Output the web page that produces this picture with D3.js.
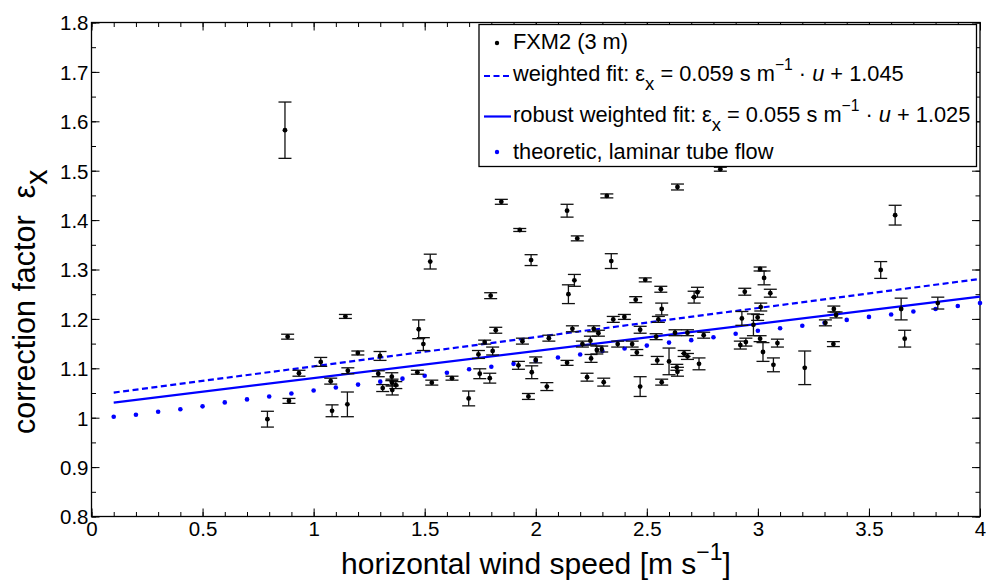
<!DOCTYPE html>
<html>
<head>
<meta charset="utf-8">
<script src="https://cdn.jsdelivr.net/npm/d3@7"></script>
<style>
  html, body { margin: 0; padding: 0; background: #fff; }
  svg { display: block; font-family: "Liberation Sans", Arial, Helvetica, sans-serif; }
  .pre { white-space: pre; }
</style>
</head>
<body>
<svg id="chart" width="986" height="583"></svg>
<script>
// Horizontal wind speed u [m s^-1] of each FXM2 (3 m) estimate
const windSpeed = [0.871,0.792,0.883,0.889,0.934,1.032,1.077,1.083,1.143,1.152,1.154,1.199,1.291,1.299,1.311,1.352,1.353,1.370,1.354,1.473,1.494,1.467,1.525,1.532,1.623,1.698,1.742,1.748,1.770,1.793,1.797,1.806,1.820,1.845,1.922,1.928,1.940,1.967,1.979,1.982,2.000,2.050,2.059,2.141,2.147,2.141,2.165,2.174,2.187,2.210,2.231,2.246,2.249,2.261,2.275,2.282,2.297,2.306,2.320,2.340,2.349,2.369,2.399,2.434,2.450,2.455,2.470,2.470,2.493,2.542,2.547,2.552,2.563,2.567,2.567,2.600,2.627,2.635,2.638,2.638,2.668,2.683,2.683,2.713,2.728,2.735,2.756,2.831,2.921,2.928,2.941,2.946,2.980,2.999,3.010,3.013,3.010,3.028,3.023,3.056,3.070,3.088,3.211,3.304,3.342,3.352,3.340,3.553,3.618,3.645,3.661,3.810];
// Correction factor epsilon_x
const epsilon = [1.582,0.997,1.164,1.034,1.090,1.113,1.074,1.014,1.205,1.027,1.095,1.131,1.089,1.125,1.060,1.083,1.071,1.066,1.056,1.179,1.149,1.092,1.316,1.071,1.080,1.039,1.128,1.089,1.153,1.080,1.247,1.135,1.177,1.437,1.106,1.380,1.155,1.043,1.319,1.092,1.117,1.063,1.161,1.419,1.250,1.111,1.180,1.278,1.363,1.149,1.082,1.156,1.120,1.180,1.137,1.171,1.139,1.072,1.449,1.317,1.199,1.149,1.204,1.149,1.239,1.132,1.178,1.063,1.279,1.164,1.116,1.199,1.260,1.220,1.072,1.114,1.172,1.102,1.093,1.467,1.130,1.124,1.172,1.244,1.254,1.109,1.167,1.503,1.147,1.201,1.255,1.153,1.188,1.203,1.301,1.224,1.160,1.283,1.133,1.252,1.107,1.151,1.101,1.192,1.220,1.208,1.149,1.299,1.410,1.220,1.160,1.232];
// Uncertainty (half length of the error bar)
const epsilonErr = [0.057,0.016,0.005,0.005,0.006,0.009,0.006,0.012,0.004,0.025,0.006,0.004,0.006,0.009,0.007,0.008,0.007,0.007,0.010,0.019,0.013,0.004,0.015,0.005,0.004,0.015,0.008,0.010,0.004,0.010,0.006,0.008,0.006,0.005,0.008,0.003,0.006,0.006,0.011,0.013,0.006,0.008,0.006,0.013,0.019,0.005,0.006,0.012,0.005,0.006,0.008,0.009,0.008,0.006,0.008,0.006,0.006,0.008,0.004,0.015,0.006,0.006,0.005,0.006,0.006,0.006,0.007,0.020,0.004,0.006,0.008,0.006,0.006,0.012,0.006,0.027,0.006,0.006,0.009,0.006,0.006,0.006,0.006,0.012,0.010,0.012,0.006,0.004,0.008,0.014,0.007,0.008,0.022,0.006,0.004,0.008,0.006,0.014,0.019,0.008,0.014,0.008,0.034,0.006,0.006,0.006,0.005,0.017,0.020,0.022,0.017,0.012];

// Theoretical correction for laminar tube flow
const theoryU = [0.1,0.2,0.3,0.4,0.5,0.6,0.7,0.8,0.9,1.0,1.1,1.2,1.3,1.4,1.5,1.6,1.7,1.8,1.9,2.0,2.1,2.2,2.3,2.4,2.5,2.6,2.7,2.8,2.9,3.0,3.1,3.2,3.3,3.4,3.5,3.6,3.7,3.8,3.9,4.0];
const theoryEps = [1.002,1.006,1.012,1.017,1.023,1.031,1.037,1.043,1.049,1.055,1.061,1.067,1.073,1.079,1.085,1.091,1.098,1.103,1.109,1.115,1.122,1.128,1.135,1.140,1.146,1.152,1.157,1.163,1.170,1.176,1.181,1.186,1.192,1.198,1.204,1.209,1.215,1.220,1.226,1.232];

// Linear fits: epsilon_x = slope * u + intercept
const weightedFit = { slope: 0.059, intercept: 1.045 };
const robustFit = { slope: 0.055, intercept: 1.025 };
const fitRange = [0.1, 4.0];

const xTicks = [0, 0.5, 1, 1.5, 2, 2.5, 3, 3.5, 4];
const xTickLabels = ["0", "0.5", "1", "1.5", "2", "2.5", "3", "3.5", "4"];
const yTicks = [0.8, 0.9, 1, 1.1, 1.2, 1.3, 1.4, 1.5, 1.6, 1.7, 1.8];
const yTickLabels = ["0.8", "0.9", "1", "1.1", "1.2", "1.3", "1.4", "1.5", "1.6", "1.7", "1.8"];

const svg = d3.select("#chart");
const plot = { left: 91.5, top: 22.5, right: 980, bottom: 516.5 };

const x = d3.scaleLinear().domain([0, 4]).range([plot.left, plot.right]);
const y = d3.scaleLinear().domain([0.8, 1.8]).range([plot.bottom, plot.top]);

const blue = "#0000ff";
const tickFont = 20.5;

// Axes with inward ticks on all four sides
const xMinor = d3.range(0, 4.0001, 0.1).map(v => +v.toFixed(2));
const yMinor = d3.range(0.8, 1.8001, 0.05).map(v => +v.toFixed(2));

function axisSide(axisFn, scale, translate, ticks, labels, len, withLabels) {
  const g = svg.append("g").attr("transform", translate);
  const a = axisFn(scale).tickValues(ticks).tickSizeInner(-len).tickSizeOuter(0).tickPadding(withLabels ? 8 : 0)
    .tickFormat((d, i) => withLabels ? labels[i] : "");
  g.call(a);
  g.select(".domain").remove();
  g.selectAll("line").attr("stroke", "#000").attr("stroke-width", 1);
  g.selectAll("text").attr("font-size", tickFont).attr("fill", "#000")
    .attr("font-family", "'Liberation Sans', Arial, sans-serif");
  return g;
}

// minor ticks
axisSide(d3.axisBottom, x, `translate(0,${plot.bottom})`, xMinor, [], 4.5, false);
axisSide(d3.axisTop, x, `translate(0,${plot.top})`, xMinor, [], 4.5, false);
axisSide(d3.axisLeft, y, `translate(${plot.left},0)`, yMinor, [], 4.5, false);
axisSide(d3.axisRight, y, `translate(${plot.right},0)`, yMinor, [], 4.5, false);
// major ticks
const gx = axisSide(d3.axisBottom, x, `translate(0,${plot.bottom})`, xTicks, xTickLabels, 8, true);
gx.selectAll("text").attr("dy", "0.8em").attr("y", 3);
axisSide(d3.axisTop, x, `translate(0,${plot.top})`, xTicks, xTickLabels, 8, false);
const gy = axisSide(d3.axisLeft, y, `translate(${plot.left},0)`, yTicks, yTickLabels, 8, true);
gy.selectAll("text").attr("x", -3).attr("dy", "0.36em");
axisSide(d3.axisRight, y, `translate(${plot.right},0)`, yTicks, yTickLabels, 8, false);

// frame
svg.append("rect")
  .attr("x", plot.left).attr("y", plot.top)
  .attr("width", plot.right - plot.left).attr("height", plot.bottom - plot.top)
  .attr("fill", "none").attr("stroke", "#000").attr("stroke-width", 1.3);

// theoretical curve as dots
svg.append("g").selectAll("circle").data(theoryU).join("circle")
  .attr("cx", d => x(d)).attr("cy", (d, i) => y(theoryEps[i]))
  .attr("r", 2.3).attr("fill", blue);

// fit lines
const fitLine = f => d3.line().x(d => x(d)).y(d => y(f.slope * d + f.intercept))(fitRange);
svg.append("path").attr("d", fitLine(weightedFit))
  .attr("fill", "none").attr("stroke", blue).attr("stroke-width", 2.2)
  .attr("stroke-dasharray", "6,3.5");
svg.append("path").attr("d", fitLine(robustFit))
  .attr("fill", "none").attr("stroke", blue).attr("stroke-width", 2.2);

// measurements with error bars
const pts = windSpeed.map((u, i) => ({ u, e: epsilon[i], err: epsilonErr[i] }));
const eb = svg.append("g").attr("stroke", "#111").attr("stroke-width", 1.3);
const capHalf = 6.5;
pts.forEach(p => {
  const px = x(p.u), y1 = y(p.e + p.err), y0 = y(p.e - p.err);
  eb.append("line").attr("x1", px).attr("x2", px).attr("y1", y1).attr("y2", y0);
  eb.append("line").attr("x1", px - capHalf).attr("x2", px + capHalf).attr("y1", y1).attr("y2", y1);
  eb.append("line").attr("x1", px - capHalf).attr("x2", px + capHalf).attr("y1", y0).attr("y2", y0);
});
svg.append("g").selectAll("circle").data(pts).join("circle")
  .attr("cx", d => x(d.u)).attr("cy", d => y(d.e)).attr("r", 2.4).attr("fill", "#000");

// legend
const leg = svg.append("g");
leg.append("rect").attr("x", 479).attr("y", 24.5).attr("width", 497.5).attr("height", 142)
  .attr("fill", "#fff").attr("stroke", "#000").attr("stroke-width", 1.3);
const legFont = 21.8;
const tx = 513;
leg.append("circle").attr("cx", 497).attr("cy", 43).attr("r", 2.2).attr("fill", "#000");
leg.append("text").attr("x", tx).attr("y", 49).attr("font-size", legFont).text("FXM2 (3 m)");

leg.append("line").attr("x1", 484).attr("x2", 511).attr("y1", 76).attr("y2", 76)
  .attr("stroke", blue).attr("stroke-width", 2.2).attr("stroke-dasharray", "6,3.5");
leg.append("line").attr("x1", 484).attr("x2", 511).attr("y1", 116.5).attr("y2", 116.5)
  .attr("stroke", blue).attr("stroke-width", 2.2);
leg.append("circle").attr("cx", 497).attr("cy", 152).attr("r", 2.2).attr("fill", blue);

function fitLabel(yb, prefix, f) {
  const t = leg.append("text").attr("x", tx).attr("y", yb).attr("font-size", legFont).attr("class", "pre");
  t.append("tspan").text(prefix + "ε");
  t.append("tspan").attr("dy", 9).attr("font-size", legFont * 0.85).text("x");
  t.append("tspan").attr("dy", -9).text(` = ${f.slope.toFixed(3)} s m`);
  t.append("tspan").attr("dy", -11).attr("font-size", legFont * 0.72).text("−1");
  t.append("tspan").attr("dy", 11).text(" · ");
  t.append("tspan").attr("font-style", "italic").text("u");
  t.append("tspan").text(` + ${f.intercept.toFixed(3)}`);
}
fitLabel(81, "weighted fit: ", weightedFit);
fitLabel(121.5, "robust weighted fit: ", robustFit);
leg.append("text").attr("x", tx).attr("y", 159).attr("font-size", legFont).text("theoretic, laminar tube flow");

// axis titles
const xl = svg.append("text").attr("x", 536).attr("y", 574).attr("text-anchor", "middle").attr("font-size", 30);
xl.append("tspan").text("horizontal wind speed [m s");
xl.append("tspan").attr("dy", -14).attr("font-size", 23).text("−1");
xl.append("tspan").attr("dy", 14).text("]");

const yl = svg.append("text").attr("transform", "translate(35,434) rotate(-90)")
  .attr("text-anchor", "start").attr("font-size", 30.5).attr("class", "pre");
yl.append("tspan").text("correction factor  ε");
yl.append("tspan").attr("dy", 12).text("x");
</script>
</body>
</html>
